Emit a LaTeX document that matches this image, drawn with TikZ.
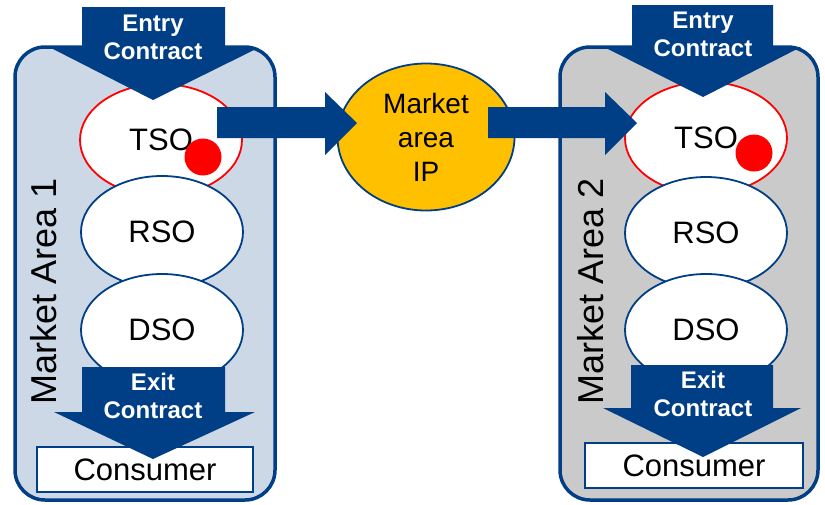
\documentclass[tikz,border=0pt]{standalone}
\usepackage{fontspec}
\setmainfont{Liberation Sans}
\usetikzlibrary{shapes.geometric}

\definecolor{mablue}{RGB}{0,62,134}
\definecolor{areaone}{RGB}{205,216,231}
\definecolor{areatwo}{RGB}{202,202,202}
\definecolor{ipgold}{RGB}{255,192,0}

\begin{document}
\begin{tikzpicture}[x=1pt, y=-1pt,
    % Define styles for the two market areas
    area/.style={draw=mablue, line width=3.5pt, rounded corners=30pt, minimum height=453pt},
    areatitle/.style={rotate=90, font=\fontsize{36}{36}\selectfont, inner sep=0pt},
    operator/.style={ellipse, draw=mablue, line width=1.8pt, fill=white, minimum width=162pt, minimum height=112pt, inner sep=0pt, font=\fontsize{31}{31}\selectfont},
    tsonode/.style={operator, draw=red},
    reddot/.style={circle, fill=red, minimum size=37pt, inner sep=0pt},
    blockarrow/.style={fill=mablue, draw=none},
    contract/.style={text=white, font=\bfseries\fontsize{24}{28}\selectfont, align=center, inner sep=0pt},
    consumer/.style={draw=mablue, line width=1.5pt, fill=white, minimum width=216pt, minimum height=45pt, inner sep=0pt, font=\fontsize{31}{31}\selectfont},
    hub/.style={ellipse, draw=mablue, line width=1.8pt, fill=ipgold, minimum width=177pt, minimum height=147pt, inner sep=0pt, align=center, font=\fontsize{28}{34}\selectfont}
]

\useasboundingbox (0,0) rectangle (825,504);

% Market areas
\node[area, fill=areaone, minimum width=260pt] (area1) at (145,273.5) {};
\node[area, fill=areatwo, minimum width=258pt] (area2) at (689,273.5) {};
\node[areatitle] (title1) at (44,291) {Market Area 1};
\node[areatitle] (title2) at (591,291) {Market Area 2};

% Operators in market area 1
\node[tsonode] (tso1) at (161,140) {TSO};
\node[operator] (rso1) at (162,232) {RSO};
\node[operator] (dso1) at (162,330) {DSO};
\node[reddot] (dot1) at (203,157) {};

% Operators in market area 2
\node[tsonode] (tso2) at (706,138) {TSO};
\node[operator] (rso2) at (706,233) {RSO};
\node[operator] (dso2) at (706,330) {DSO};
\node[reddot] (dot2) at (754,153) {};

% Consumers
\node[consumer] (cons1) at (145,469.5) {Consumer};
\node[consumer, minimum width=218pt] (cons2) at (694,465.5) {Consumer};

% Entry contracts
\fill[blockarrow] (82,7) -- (225,7) -- (225,49) -- (256,49) -- (153,100) -- (53,49) -- (82,49) -- cycle;
\node[contract] (entry1) at (153,37) {Entry\\Contract};
\fill[blockarrow] (632,5) -- (773,5) -- (773,47) -- (801,47) -- (703,97) -- (604,47) -- (632,47) -- cycle;
\node[contract] (entry2) at (703,34) {Entry\\Contract};

% Exit contracts
\fill[blockarrow] (82,367) -- (225,367) -- (225,412) -- (255,412) -- (153,459) -- (54,412) -- (82,412) -- cycle;
\node[contract] (exit1) at (153,396) {Exit\\Contract};
\fill[blockarrow] (631,365) -- (773,365) -- (773,408) -- (801,408) -- (703,457) -- (603,408) -- (631,408) -- cycle;
\node[contract] (exit2) at (703,394) {Exit\\Contract};

% Market area interconnection point
\node[hub] (ip) at (426,137) {Market\\area\\IP};

% Flows between the areas
\fill[blockarrow] (217,107) -- (325,107) -- (325,92) -- (357,123) -- (325,155) -- (325,138) -- (217,138) -- cycle;
\fill[blockarrow] (488,107) -- (605,107) -- (605,92) -- (637,123) -- (605,155) -- (605,138) -- (488,138) -- cycle;

\end{tikzpicture}
\end{document}
